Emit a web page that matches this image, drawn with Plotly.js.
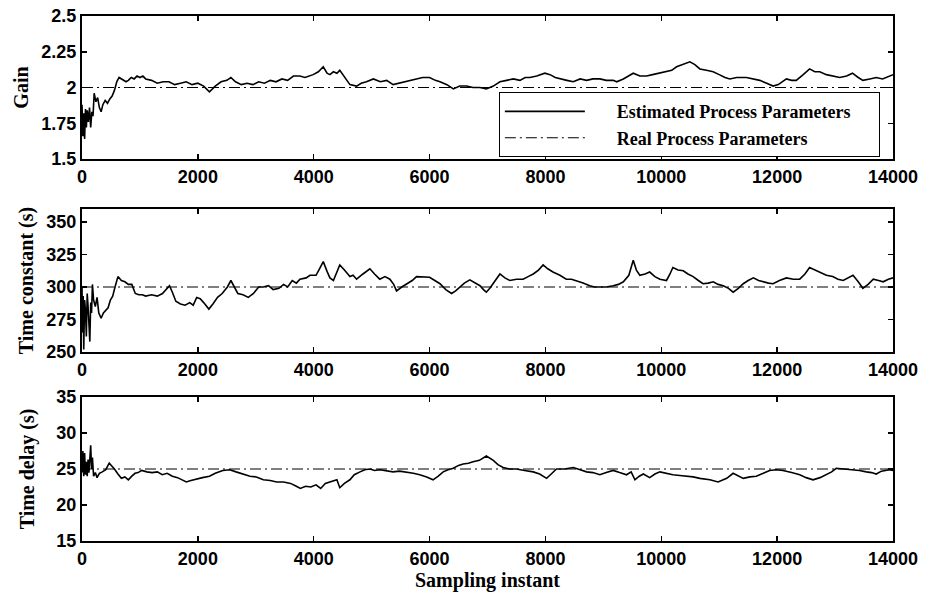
<!DOCTYPE html>
<html>
<head>
<meta charset="utf-8">
<script src="https://cdn.plot.ly/plotly-3.0.1.min.js"></script>
<style>html,body{margin:0;padding:0;background:#fff;}#chart{width:925px;height:599px;}</style>
</head>
<body>
<div id="chart"></div>
<script>
// ---------- data ----------
const gainX = [0,15,30,45,60,75,90,110,130,150,170,190,210,240,270,300,330,360,400,440,480,520,560,600,640,680,720,760,800,850,900,950,1000,1050,1100,1200,1300,1400,1500,1600,1700,1800,1900,2000,2100,2200,2300,2400,2500,2570,2650,2750,2850,2950,3050,3150,3250,3350,3450,3550,3650,3760,3850,3990,4080,4165,4230,4280,4340,4400,4450,4530,4625,4740,4820,4910,5030,5150,5260,5370,5480,5600,5700,5775,5880,6000,6100,6180,6300,6410,6520,6640,6750,6870,6980,7100,7215,7330,7445,7560,7650,7730,7850,7990,8080,8170,8250,8370,8480,8600,8710,8820,8940,9050,9170,9230,9345,9440,9516,9630,9746,9850,9950,10090,10180,10264,10380,10494,10580,10666,10780,10896,11000,11100,11184,11300,11470,11580,11700,11820,11930,12020,12160,12250,12330,12450,12560,12650,12735,12850,12960,13080,13200,13300,13400,13480,13600,13710,13820,13940,14000];
const gainY = [1.88,1.66,1.82,1.64,1.85,1.72,1.84,1.76,1.86,1.72,1.83,1.80,1.96,1.90,1.93,1.86,1.83,1.88,1.91,1.89,1.92,1.94,1.98,2.04,2.07,2.06,2.05,2.04,2.05,2.07,2.06,2.08,2.07,2.08,2.06,2.05,2.03,2.04,2.04,2.02,2.03,2.04,2.02,2.03,2.01,1.97,2.01,2.04,2.05,2.07,2.04,2.02,2.03,2.02,2.04,2.03,2.05,2.04,2.06,2.05,2.08,2.08,2.07,2.09,2.11,2.145,2.10,2.09,2.11,2.10,2.12,2.07,2.02,2.01,2.03,2.04,2.06,2.04,2.05,2.02,2.03,2.04,2.05,2.06,2.07,2.07,2.05,2.04,2.02,1.99,2.01,2.01,2.00,2.00,1.99,2.01,2.04,2.05,2.06,2.05,2.07,2.07,2.08,2.10,2.09,2.07,2.06,2.05,2.04,2.06,2.05,2.06,2.06,2.05,2.05,2.04,2.06,2.08,2.10,2.08,2.08,2.09,2.10,2.11,2.12,2.145,2.16,2.18,2.16,2.13,2.12,2.11,2.09,2.07,2.06,2.07,2.07,2.06,2.05,2.03,2.01,2.02,2.06,2.05,2.05,2.09,2.13,2.11,2.11,2.09,2.08,2.07,2.08,2.10,2.07,2.05,2.06,2.07,2.06,2.08,2.09];

const tauX = [0,10,20,30,45,60,75,90,105,120,135,150,165,180,200,230,260,290,330,370,410,450,490,530,570,620,680,740,800,860,920,980,1040,1100,1200,1300,1390,1450,1510,1560,1620,1700,1780,1860,1920,1980,2040,2100,2190,2260,2340,2420,2510,2570,2630,2690,2780,2870,2960,3050,3130,3220,3300,3400,3480,3550,3630,3700,3763,3870,3935,4040,4100,4165,4230,4280,4340,4400,4450,4530,4625,4680,4740,4850,4970,5050,5140,5230,5315,5380,5430,5520,5600,5700,5775,5880,6000,6090,6180,6280,6380,6450,6520,6600,6695,6780,6870,6930,6980,7040,7100,7160,7215,7300,7385,7500,7615,7700,7790,7880,7960,8040,8130,8250,8360,8450,8530,8650,8765,8850,8940,9050,9170,9260,9345,9440,9516,9570,9630,9720,9800,9890,9976,10090,10150,10200,10290,10380,10460,10550,10640,10720,10810,10896,10980,11070,11160,11240,11330,11415,11500,11590,11680,11760,11850,11930,12040,12160,12280,12390,12480,12560,12650,12735,12850,12960,13050,13140,13230,13310,13400,13480,13570,13660,13750,13830,13920,14000];
const tauY = [300,265,293,252,290,282,262,295,285,270,258,288,280,302,290,285,292,280,276,280,282,284,290,293,300,308,305,304,302,302,295,294,294,293,294,293,295,298,301,296,289,287,286,288,286,292,291,288,283,287,292,295,300,305,300,295,294,292,295,300,300,301,298,299,302,300,305,303,306,307,309,309,314,319.5,312,307,305,311,317,313,308,309,306,310,314,310,306,308,306,302,297,300,302,305,308,308,307.5,305,302.5,298,295,297,300,303,305.5,303,301,298,296,299,302.5,306,310,307,305,306,306,308,310,313,317,314,311.5,309,306,306,305,303,301,300,300,300,301,302,304,309,320.5,313,309,310,311.5,308,306,305,310,315,313,312.5,310,308,305,302.5,303,304,302,301,299,296,299,302.5,305,307,305,304,303,302.5,305,307,306,306,310,315,313,311.5,309,308,306,305,307,309,304,299,302,306,305,304,306,307];

const delayX = [0,15,30,45,60,75,90,105,120,135,150,165,180,200,230,260,300,350,410,470,520,560,620,680,740,800,860,915,970,1030,1120,1210,1300,1385,1470,1560,1650,1720,1800,1880,1970,2080,2200,2300,2430,2550,2660,2780,2900,3010,3130,3250,3360,3480,3600,3700,3770,3860,3950,4040,4120,4200,4300,4400,4450,4530,4625,4700,4800,4880,4970,5050,5140,5260,5370,5480,5600,5720,5830,5950,6060,6150,6235,6320,6410,6500,6580,6670,6750,6860,6980,7040,7100,7180,7270,7380,7500,7640,7790,7900,8020,8100,8190,8330,8480,8600,8710,8820,8940,9050,9170,9280,9400,9480,9545,9620,9690,9800,9890,9976,10090,10200,10320,10440,10550,10666,10760,10840,10980,11060,11130,11240,11330,11415,11530,11640,11760,11870,11980,12100,12250,12390,12500,12620,12740,12850,12940,13020,13160,13310,13420,13540,13630,13710,13800,13940,14000];
const delayY = [24.5,27.5,24.0,27.2,24.2,26.0,24.0,26.3,24.5,27.0,28.3,25.0,26.6,24.0,24.5,23.8,24.4,24.6,24.9,25.8,25.4,25.0,24.3,23.7,23.9,23.5,24.0,24.4,24.5,24.8,24.6,24.5,24.6,24.2,24.4,24.0,23.8,23.5,23.2,23.4,23.6,23.8,24.0,24.4,24.8,24.9,24.6,24.3,24.0,23.9,23.5,23.4,23.2,23.2,23.0,22.6,22.3,22.6,22.5,22.8,22.3,23.0,23.2,23.5,22.4,23.0,23.5,24.2,24.6,24.9,25.0,24.8,24.9,24.7,24.6,24.7,24.6,24.4,24.2,23.9,23.5,24.0,24.6,24.9,25.1,25.5,25.7,25.8,26.0,26.2,26.8,26.5,26.2,25.6,25.2,25.0,25.0,24.8,24.6,24.3,23.7,24.3,25.0,25.0,25.2,24.9,24.6,24.5,24.2,24.5,24.8,24.5,24.2,24.6,23.5,24.0,24.3,23.8,24.3,24.6,24.4,24.2,24.1,24.0,23.9,23.7,23.6,23.5,23.2,23.5,23.7,24.4,24.0,23.7,23.9,24.0,24.4,24.8,24.9,24.8,24.5,24.2,23.8,23.5,23.8,24.2,24.6,25.1,25.0,24.9,24.8,24.6,24.5,24.3,24.7,24.9,24.8];

const realX = [0,14000];
const realGain = [2,2];
const realTau = [300,300];
const realDelay = [25,25];

const xTickVals = [0,2000,4000,6000,8000,10000,12000,14000];
const xTickText = ['0','2000','4000','6000','8000','10000','12000','14000'];
const gainTickVals = [1.5,1.75,2,2.25,2.5];
const gainTickText = ['1.5','1.75','2','2.25','2.5'];
const tauTickVals = [250,275,300,325,350];
const tauTickText = ['250','275','300','325','350'];
const delayTickVals = [15,20,25,30,35];
const delayTickText = ['15','20','25','30','35'];

const seriesNames = ['Estimated Process Parameters','Real Process Parameters'];
const yTitles = ['Gain','Time constant (s)','Time delay (s)'];
const xTitle = 'Sampling instant';

// ---------- traces ----------
const pad = '\u00a0\u00a0\u00a0\u00a0\u00a0\u00a0';
const tailPad = '\u00a0\u00a0\u00a0\u00a0\u00a0';
const estLine = {color:'#000', width:1.6};
const realLine = {color:'#000', width:1.2, dash:'11px,4px,2px,4px'};
const traces = [
  {x:realX, y:realGain, mode:'lines', line:realLine, name:pad + seriesNames[1], xaxis:'x', yaxis:'y', showlegend:true, legendrank:2},
  {x:gainX, y:gainY, mode:'lines', line:estLine, name:pad + seriesNames[0] + tailPad, xaxis:'x', yaxis:'y', showlegend:true, legendrank:1},
  {x:realX, y:realTau, mode:'lines', line:realLine, xaxis:'x2', yaxis:'y2', showlegend:false},
  {x:tauX, y:tauY, mode:'lines', line:estLine, xaxis:'x2', yaxis:'y2', showlegend:false},
  {x:realX, y:realDelay, mode:'lines', line:realLine, xaxis:'x3', yaxis:'y3', showlegend:false},
  {x:delayX, y:delayY, mode:'lines', line:estLine, xaxis:'x3', yaxis:'y3', showlegend:false}
];

const tickFont = {family:'Liberation Sans, Arial, sans-serif', size:18, color:'#000', weight:'bold'};
const titleFont = {family:'Liberation Serif, Times New Roman, serif', size:20, color:'#000', weight:'bold'};

function xAxis(anchor, withTitle){
  const a = {
    domain:[0,1], range:[0,14000], anchor:anchor,
    tickvals:xTickVals, ticktext:xTickText, tickfont:tickFont,
    ticks:'inside', ticklen:5, tickwidth:1.5, tickcolor:'#000',
    showline:true, linecolor:'#000', linewidth:2, mirror:'ticks',
    showgrid:false, zeroline:false, fixedrange:true
  };
  if (withTitle) a.title = {text:xTitle, font:titleFont, standoff:2};
  return a;
}
function yAxis(anchor, domain, range, vals, text, title, standoff){
  return {
    domain:domain, range:range, anchor:anchor,
    tickvals:vals, ticktext:text, tickfont:tickFont,
    ticks:'inside', ticklen:5, tickwidth:1.5, tickcolor:'#000',
    showline:true, linecolor:'#000', linewidth:2, mirror:'ticks',
    showgrid:false, zeroline:false, fixedrange:true,
    title:{text:title, font:titleFont, standoff:standoff}
  };
}

const layout = {
  width:925, height:599,
  margin:{l:82, r:32, t:16, b:58},
  paper_bgcolor:'#fff', plot_bgcolor:'#fff',
  showlegend:true,
  legend:{
    x:0.514, y:0.855, xanchor:'left', yanchor:'top',
    bordercolor:'#000', borderwidth:1, bgcolor:'#fff',
    font:{family:'Liberation Serif, Times New Roman, serif', size:18, color:'#000', weight:'bold'},
    itemwidth:80, tracegroupgap:0, traceorder:'normal'
  },
  xaxis: xAxis('y', false),
  xaxis2: xAxis('y2', false),
  xaxis3: xAxis('y3', true),
  yaxis: yAxis('x', [0.7276,1], [1.5,2.5], gainTickVals, gainTickText, yTitles[0], 7),
  yaxis2: yAxis('x2', [0.36,0.6324], [250,360], tauTickVals, tauTickText, yTitles[1], 7),
  yaxis3: yAxis('x3', [0,0.2743], [15,35], delayTickVals, delayTickText, yTitles[2], 16)
};

Plotly.newPlot('chart', traces, layout, {staticPlot:true, displayModeBar:false});
</script>
</body>
</html>
